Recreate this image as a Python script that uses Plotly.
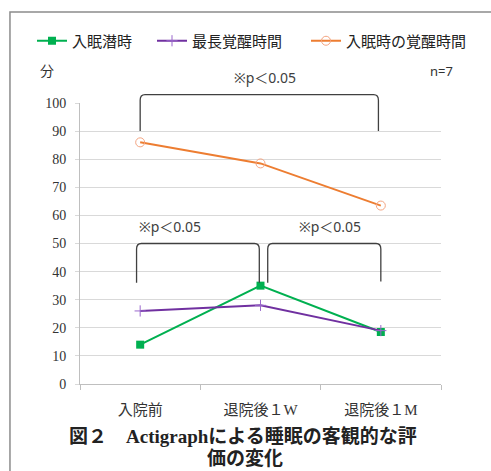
import plotly.graph_objects as go

categories = ["入院前", "退院後１W", "退院後１M"]
sleep_latency = [14, 35, 18.5]          # 入眠潜時
longest_wake = [26, 28, 19]             # 最長覚醒時間
wake_after_onset = [86, 78.5, 63.5]     # 入眠時の覚醒時間

# significance brackets: (left x, right x, left leg bottom, right leg bottom, top, label x, label)
brackets = [
    (0.0, 1.98, 90, 90, 103, 1.04, "※p＜0.05"),
    (-0.03, 0.99, 36, 36, 50, 0.25, "※p＜0.05"),
    (1.06, 2.0, 36, 36.5, 50, 1.58, "※p＜0.05"),
]

xpos = list(range(len(categories)))
XMIN, XMAX, YMIN, YMAX = -0.5, 2.5, 0, 100

L, R, T, B = 80, 50, 103, 87
W, H = 491, 471
pw, ph = W - L - R, H - T - B


def px(x):
    return (x - XMIN) / (XMAX - XMIN)


def py(y):
    return (y - YMIN) / (YMAX - YMIN)


fig = go.Figure()
fig.add_trace(go.Scatter(
    x=xpos, y=sleep_latency, name="入眠潜時", mode="lines+markers", legend="legend",
    line=dict(color="#00b050", width=2),
    marker=dict(symbol="square", size=8, color="#00b050"),
))
fig.add_trace(go.Scatter(
    x=xpos, y=longest_wake, name="最長覚醒時間", mode="lines+markers", legend="legend2",
    line=dict(color="#7030a0", width=2),
    marker=dict(symbol="cross-thin", size=8, line=dict(color="#9966cc", width=1)),
))
fig.add_trace(go.Scatter(
    x=xpos, y=wake_after_onset, name="入眠時の覚醒時間", mode="lines+markers", legend="legend3",
    line=dict(color="#ed7d31", width=2),
    marker=dict(symbol="circle-open", size=9, color="#f4a582", line=dict(width=1)),
))

shapes = []
annotations = []
for x0, x1, yl, yr, top, lx, label in brackets:
    r = 0.04
    rv = 2.0
    pts = [
        ("M", (x0, yl)), ("L", (x0, top - rv)), ("Q", (x0, top), (x0 + r, top)),
        ("L", (x1 - r, top)), ("Q", (x1, top), (x1, top - rv)), ("L", (x1, yr)),
    ]
    # bracket drawn in paper coordinates so the top one is not clipped by the plot area
    path = " ".join(
        cmd + " " + " ".join(f"{px(a):.5f},{py(b):.5f}" for a, b in coords)
        for cmd, *coords in pts
    )
    shapes.append(dict(type="path", path=path, xref="paper", yref="paper",
                       line=dict(color="#404040", width=1.3)))
    annotations.append(dict(x=px(lx), y=py(top + 6), xref="paper", yref="paper",
                            text=label, showarrow=False, xanchor="center", yanchor="middle",
                            font=dict(family="Noto Sans, Noto Sans CJK JP", size=14, color="#404040")))

# outer frame
shapes.append(dict(type="rect", xref="paper", yref="paper", x0=-0.194, x1=1.3,
                   y0=-0.5, y1=1.324, line=dict(color="#8c8c8c", width=1.5)))

pixel_labels = [
    dict(x=47, y=70, text="分",
         font=dict(family="Noto Sans CJK JP", size=14, color="#333")),
    dict(x=441, y=71, text="n=7",
         font=dict(family="Noto Sans", size=13, color="#333")),
    dict(x=243, y=436, text="<b>図２　Actigraphによる睡眠の客観的な評</b>",
         font=dict(family="Liberation Serif, Noto Sans CJK JP", size=19, color="#222")),
    dict(x=245, y=458, text="<b>価の変化</b>",
         font=dict(family="Liberation Serif, Noto Sans CJK JP", size=19, color="#222")),
]
for a in pixel_labels:
    a.update(xref="paper", yref="paper", showarrow=False, xanchor="center", yanchor="middle",
             x=(a["x"] - L) / pw, y=(H - B - a["y"]) / ph)
    annotations.append(a)

legend_font = dict(family="Noto Sans CJK JP", size=15, color="#222")


def legend_at(xpix):
    return dict(orientation="h", x=(xpix - L) / pw, y=(H - B - 41) / ph,
                xanchor="left", yanchor="middle", bgcolor="rgba(0,0,0,0)",
                font=legend_font, itemwidth=30)


fig.update_layout(
    width=W, height=H,
    margin=dict(l=L, r=R, t=T, b=B),
    paper_bgcolor="white", plot_bgcolor="white",
    shapes=shapes, annotations=annotations,
    showlegend=True,
    legend=legend_at(32),
    legend2=legend_at(152),
    legend3=legend_at(306),
    xaxis=dict(
        range=[XMIN, XMAX], tickvals=xpos, ticktext=categories, ticks="",
        showgrid=False, zeroline=False, showline=True, linecolor="#bfbfbf", linewidth=1,
        tickfont=dict(family="Liberation Serif, Noto Sans CJK JP", size=15, color="#333"),
        minor=dict(tick0=-0.5, dtick=1, ticks="outside", ticklen=5, tickcolor="#bfbfbf", showgrid=False),
        ticklabelstandoff=12,
    ),
    yaxis=dict(
        range=[YMIN, YMAX], dtick=10, showgrid=True, gridcolor="#d9d9d9", gridwidth=1,
        zeroline=False, showline=True, linecolor="#bfbfbf", linewidth=1,
        ticks="outside", ticklen=4, tickcolor="#d9d9d9",
        tickfont=dict(family="Liberation Serif", size=14, color="#333"),
        ticklabelstandoff=6,
    ),
)

fig.write_html("out.html")
